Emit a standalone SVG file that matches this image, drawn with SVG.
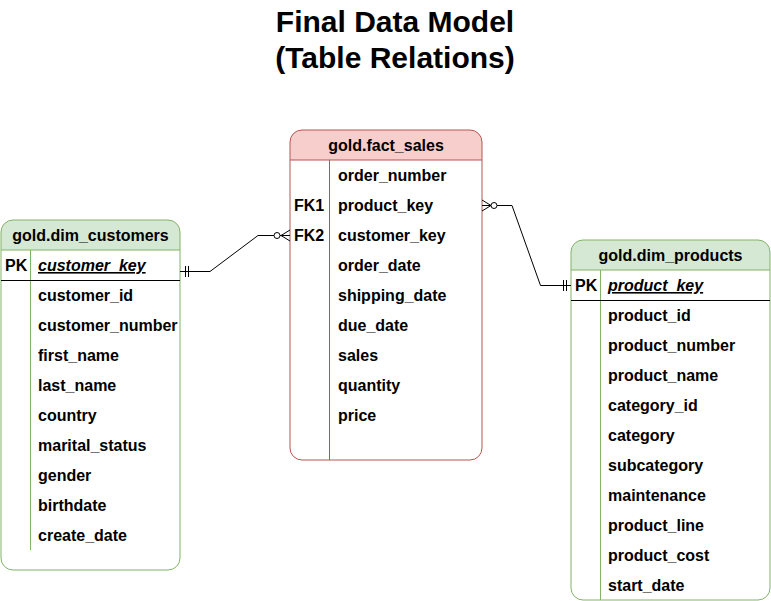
<svg xmlns="http://www.w3.org/2000/svg" width="771" height="601" viewBox="0 0 771 601">
<style>
text{font-family:"Liberation Sans",Arial,sans-serif;fill:#000}
.title{font-size:30px;font-weight:bold;text-anchor:middle}
.hdr{font-size:16px;font-weight:bold;text-anchor:middle}
.f{font-size:16px;font-weight:bold}
.pk{font-style:italic;text-decoration:underline}
.g{fill:#d5e8d4;stroke:#82b366;stroke-width:1}
.gl{stroke:#82b366;stroke-width:1;fill:none}
.r{fill:#f8cecc;stroke:#b85450;stroke-width:1}
.rl{stroke:#b85450;stroke-width:1;fill:none}
.conn{stroke:#000;stroke-width:1;fill:none}
</style>
<rect width="771" height="601" fill="#fff"/>
<text class="title" x="395" y="32">Final Data Model</text>
<text class="title" x="395" y="68">(Table Relations)</text>

<g id="dim_customers">
<path class="g" d="M1,250 V232 a12,12 0 0 1 12,-12 H168 a12,12 0 0 1 12,12 V250 Z"/>
<path class="gl" d="M1,250 V558 a12,12 0 0 0 12,12 H168 a12,12 0 0 0 12,-12 V250"/>
<line class="gl" x1="30.5" y1="250" x2="30.5" y2="550"/>
<line x1="1" y1="280.5" x2="180" y2="280.5" stroke="#000" stroke-width="1"/>
<text class="hdr" x="90.5" y="241">gold.dim_customers</text>
<text class="f" x="5" y="271">PK</text>
<text class="f pk" x="38" y="271">customer_key</text>
<text class="f" x="38" y="301">customer_id</text>
<text class="f" x="38" y="331">customer_number</text>
<text class="f" x="38" y="361">first_name</text>
<text class="f" x="38" y="391">last_name</text>
<text class="f" x="38" y="421">country</text>
<text class="f" x="38" y="451">marital_status</text>
<text class="f" x="38" y="481">gender</text>
<text class="f" x="38" y="511">birthdate</text>
<text class="f" x="38" y="541">create_date</text>
</g>

<g id="fact_sales">
<path class="r" d="M290,160 V142 a12,12 0 0 1 12,-12 H470 a12,12 0 0 1 12,12 V160 Z"/>
<path class="rl" d="M290,160 V448 a12,12 0 0 0 12,12 H470 a12,12 0 0 0 12,-12 V160"/>
<line class="rl" x1="329.5" y1="160" x2="329.5" y2="460"/>
<text class="hdr" x="386" y="151">gold.fact_sales</text>
<text class="f" x="338" y="181">order_number</text>
<text class="f" x="294" y="211">FK1</text>
<text class="f" x="338" y="211">product_key</text>
<text class="f" x="294" y="241">FK2</text>
<text class="f" x="338" y="241">customer_key</text>
<text class="f" x="338" y="271">order_date</text>
<text class="f" x="338" y="301">shipping_date</text>
<text class="f" x="338" y="331">due_date</text>
<text class="f" x="338" y="361">sales</text>
<text class="f" x="338" y="391">quantity</text>
<text class="f" x="338" y="421">price</text>
</g>

<g id="dim_products">
<path class="g" d="M571,270 V252 a12,12 0 0 1 12,-12 H758 a12,12 0 0 1 12,12 V270 Z"/>
<path class="gl" d="M571,270 V588 a12,12 0 0 0 12,12 H758 a12,12 0 0 0 12,-12 V270"/>
<line class="gl" x1="600.5" y1="270" x2="600.5" y2="600"/>
<line x1="571" y1="300.5" x2="770" y2="300.5" stroke="#000" stroke-width="1"/>
<text class="hdr" x="670.5" y="261">gold.dim_products</text>
<text class="f" x="575" y="291">PK</text>
<text class="f pk" x="608" y="291">product_key</text>
<text class="f" x="608" y="321">product_id</text>
<text class="f" x="608" y="351">product_number</text>
<text class="f" x="608" y="381">product_name</text>
<text class="f" x="608" y="411">category_id</text>
<text class="f" x="608" y="441">category</text>
<text class="f" x="608" y="471">subcategory</text>
<text class="f" x="608" y="501">maintenance</text>
<text class="f" x="608" y="531">product_line</text>
<text class="f" x="608" y="561">product_cost</text>
<text class="f" x="608" y="591">start_date</text>
</g>

<g id="connectors">
<path class="conn" d="M180,271.5 H210 L258,235.5 H290"/>
<line class="conn" x1="185.5" y1="266" x2="185.5" y2="277"/>
<line class="conn" x1="188.5" y1="266" x2="188.5" y2="277"/>
<circle cx="277" cy="235.5" r="3" fill="#fff" stroke="#000"/>
<path class="conn" d="M290,230 L281,235.5 L290,241"/>
<path class="conn" d="M482,205.5 H512 L540.5,285.5 H571"/>
<circle cx="494" cy="205.5" r="3" fill="#fff" stroke="#000"/>
<path class="conn" d="M482,200 L491,205.5 L482,211"/>
<line class="conn" x1="563.5" y1="280" x2="563.5" y2="291"/>
<line class="conn" x1="566.5" y1="280" x2="566.5" y2="291"/>
</g>
</svg>
